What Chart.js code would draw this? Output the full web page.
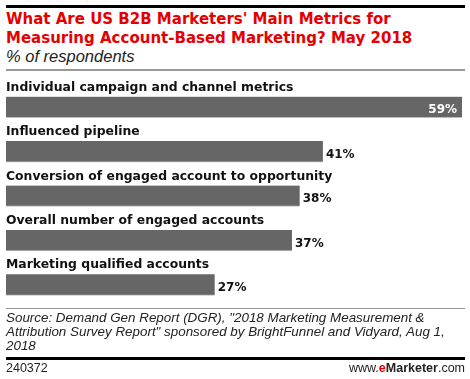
<!DOCTYPE html>
<html><head><meta charset="utf-8">
<script src="https://cdn.jsdelivr.net/npm/chart.js@4/dist/chart.umd.min.js"></script>
<style>
html,body{margin:0;padding:0;background:#fff;}
#wrap{position:relative;width:470px;height:379px;overflow:hidden;}
#c{position:absolute;left:0;top:0;}
.t{position:absolute;left:6px;white-space:nowrap;}
#title{top:10px;font:bold 15px "DejaVu Sans",Verdana,sans-serif;color:#e50000;line-height:19px;letter-spacing:0px;}
#sub{top:47px;font:italic 16.5px "Liberation Sans",Arial,sans-serif;color:#222;}
#src{top:311px;font:italic 13.4px "Liberation Sans",Arial,sans-serif;color:#222;line-height:13.8px;}
#id{top:361px;font:12.5px "Liberation Sans",Arial,sans-serif;color:#222;}
#web{position:absolute;right:5px;top:361px;font:12.5px "Liberation Sans",Arial,sans-serif;color:#222;}
.hl{position:absolute;left:6px;width:459px;}
</style></head><body>
<div id="wrap">
<div class="hl" style="top:5px;height:3px;background:#000"></div>
<div class="t" id="title">What Are US B2B Marketers' Main Metrics for<br>Measuring Account-Based Marketing? May 2018</div>
<div class="t" id="sub">% of respondents</div>
<div class="hl" style="top:69px;height:2px;background:#999"></div>
<canvas id="c" width="470" height="379"></canvas>
<div class="hl" style="top:308px;height:1px;background:#999"></div>
<div class="t" id="src">Source: Demand Gen Report (DGR), "2018 Marketing Measurement &amp;<br>Attribution Survey Report" sponsored by BrightFunnel and Vidyard, Aug 1,<br>2018</div>
<div class="hl" style="top:357px;height:3px;background:#000"></div>
<div class="t" id="id">240372</div>
<div id="web">www.<b><span style="color:#e50000">e</span>Marketer</b>.com</div>
</div>
<script>
const categories = [
  "Individual campaign and channel metrics",
  "Influenced pipeline",
  "Conversion of engaged account to opportunity",
  "Overall number of engaged accounts",
  "Marketing qualified accounts"
];
const values = [59, 41, 38, 37, 27];

const labelPlugin = {
  id: 'labels',
  afterDatasetsDraw(chart) {
    const ctx = chart.ctx;
    const meta = chart.getDatasetMeta(0);
    ctx.save();
    meta.data.forEach((bar, i) => {
      const top = bar.y - bar.height / 2;
      ctx.font = 'bold 12.4px "DejaVu Sans", Verdana, sans-serif';
      ctx.fillStyle = '#111';
      ctx.textAlign = 'left';
      ctx.textBaseline = 'alphabetic';
      ctx.fillText(categories[i], chart.chartArea.left, top - 6);
      ctx.font = 'bold 12px "DejaVu Sans", Verdana, sans-serif';
      ctx.textBaseline = 'middle';
      const txt = values[i] + '%';
      if (i === 0) {
        ctx.fillStyle = '#fff';
        ctx.textAlign = 'right';
        ctx.fillText(txt, bar.x - 5, bar.y + 3);
      } else {
        ctx.fillStyle = '#111';
        ctx.textAlign = 'left';
        ctx.fillText(txt, bar.x + 3, bar.y + 3);
      }
    });
    ctx.restore();
  }
};

new Chart(document.getElementById('c'), {
  type: 'bar',
  data: {
    labels: categories,
    datasets: [{
      data: values,
      backgroundColor: '#666666',
      borderColor: '#bdbdbd',
      borderWidth: {top: 0, left: 0, right: 0, bottom: 1},
      borderSkipped: false,
      barThickness: 21
    }]
  },
  options: {
    indexAxis: 'y',
    responsive: false,
    animation: false,
    layout: {padding: {left: 6, right: 8, top: 85, bottom: 72}},
    plugins: {legend: {display: false}, tooltip: {enabled: false}, title: {display: false}},
    scales: {
      x: {display: false, min: 0, max: 59},
      y: {display: false}
    }
  },
  plugins: [labelPlugin]
});
</script>
</body></html>
